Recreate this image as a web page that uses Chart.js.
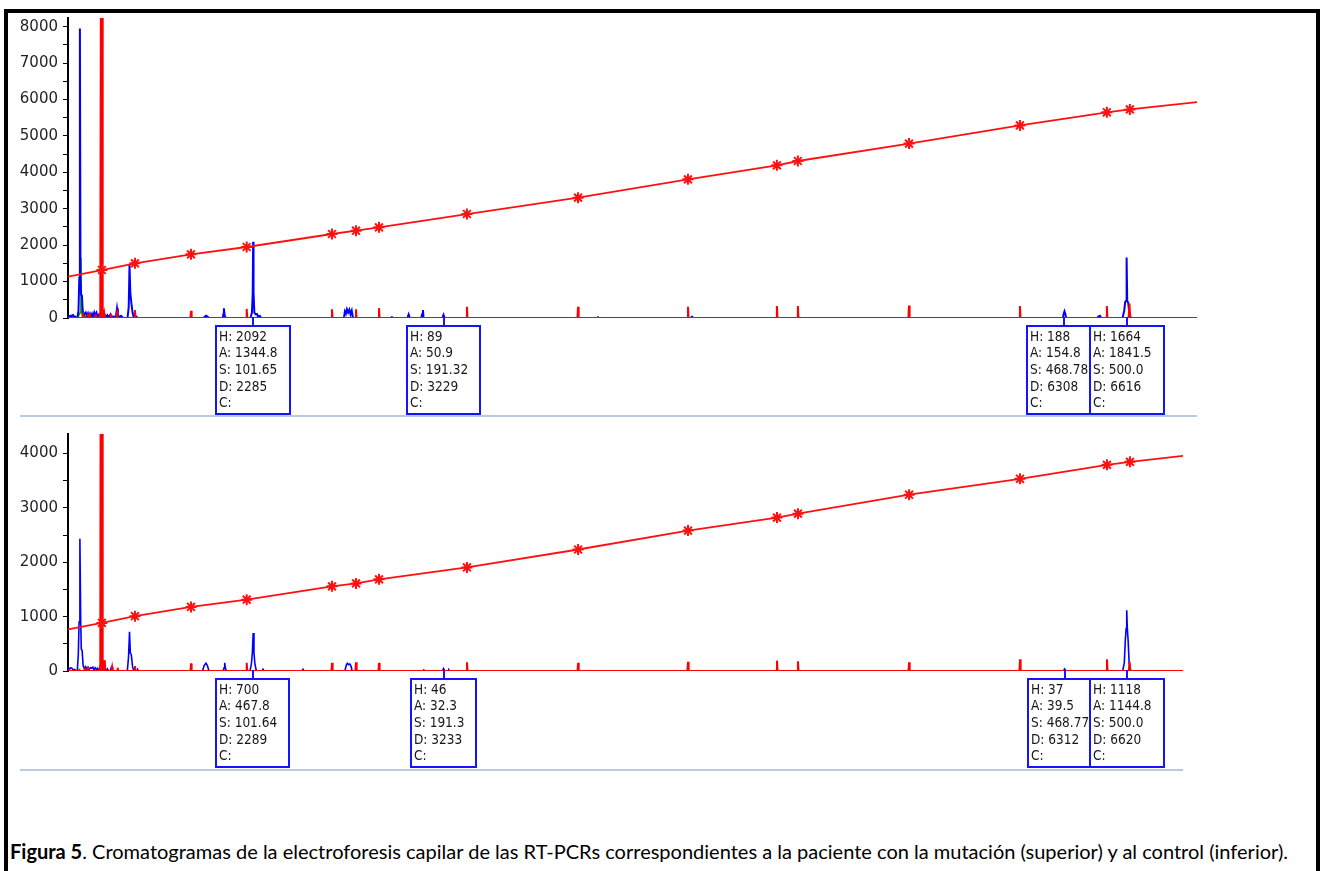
<!DOCTYPE html>
<html>
<head>
<meta charset="utf-8">
<script src="https://cdn.jsdelivr.net/npm/chart.js@4"></script>
<style>
  html, body { margin: 0; padding: 0; background: #fff; }
  #page { position: relative; width: 1321px; height: 871px; overflow: hidden; background: #fff; }
  #frame { position: absolute; left: 4px; top: 9px; width: 1316px; height: 900px;
           border: 4px solid #000; border-bottom: none; box-sizing: border-box; }
  canvas { position: absolute; left: 0; }
  #cTop { top: 0; }
  #cBot { top: 420px; }
  #caption { position: absolute; left: 10px; top: 841px; font-family: Lato, "Open Sans", sans-serif;
             font-size: 18px; line-height: 20px; white-space: nowrap; color: #000; }
</style>
</head>
<body>
<div id="page">
  <div id="frame"></div>
  <canvas id="cTop" width="1321" height="425"></canvas>
  <canvas id="cBot" width="1321" height="360"></canvas>
  <div id="caption"><span id="capText"><b>Figura 5</b>. Cromatogramas de la electroforesis capilar de las RT-PCRs correspondientes a la paciente con la mutación (superior) y al control (inferior).</span></div>
</div>
<script>
// ---------- Scan ranges shown on each electropherogram ----------
const scanRangeTop = [1367, 6965];
const scanRangeBot = [1371, 6899];
const rfuMaxTop = 8240;
const rfuMaxBot = 4360;

// ---------- Y-axis ticks (labels only on the thousands) ----------
const yTicksTop = [0, 500, 1000, 1500, 2000, 2500, 3000, 3500, 4000, 4500, 5000, 5500, 6000, 6500, 7000, 7500, 8000];
const yTicksBot = [0, 500, 1000, 1500, 2000, 2500, 3000, 3500, 4000];

// ---------- Called peaks (H: height, A: area, S: size, D: data point) ----------
const peakHTop = [2092, 89, 188, 1664];
const peakATop = ['1344.8', '50.9', '154.8', '1841.5'];
const peakSTop = ['101.65', '191.32', '468.78', '500.0'];
const peakDTop = [2285, 3229, 6308, 6616];

const peakHBot = [700, 46, 37, 1118];
const peakABot = ['467.8', '32.3', '39.5', '1144.8'];
const peakSBot = ['101.64', '191.3', '468.77', '500.0'];
const peakDBot = [2289, 3233, 6312, 6620];

// ---------- Sizing curve (size standard fit) ----------
const sizeScanTop = [1367, 1535, 1699, 1977, 2253, 2676, 2795, 2909, 3345, 3896, 4441, 4882, 4986, 5537, 6087, 6518, 6632, 6965];
const sizeValTop  = [1135, 1318, 1502, 1749, 1950, 2307, 2398, 2490, 2856, 3305, 3809, 4193, 4312, 4790, 5290, 5650, 5730, 5930];
const sizeScanBot = [1371, 1539, 1703, 1981, 2257, 2680, 2799, 2913, 3349, 3900, 4445, 4886, 4990, 5541, 6091, 6522, 6636, 6899];
const sizeValBot  = [764, 885, 1008, 1178, 1313, 1557, 1612, 1686, 1905, 2235, 2583, 2822, 2895, 3243, 3536, 3793, 3848, 3958];

// ---------- Traces, [scan, RFU] ----------
const redTop = [
  [1367,0],
  [1438,0],[1441,150],[1444,0],
  [1463,0],[1466,120],[1469,0],
  [1473,0],[1476,130],[1479,0],
  [1502,0],[1505,100],[1508,0],
  [1522,0],[1525,150],[1527,0],
  [1530,0],[1532,15000],[1537,15000],[1539,0],
  [1544,0],[1547,120],[1550,0],
  [1577,0],[1580,100],[1583,0],
  [1607,0],[1610,120],[1613,0],
  [1696,0],[1699,220],[1702,0],
  [1974,0],[1977,200],[1980,0],
  [2250,0],[2253,250],[2256,0],
  [2673,0],[2676,240],[2679,0],
  [2792,0],[2795,240],[2798,0],
  [2906,0],[2909,270],[2912,0],
  [3342,0],[3345,310],[3348,0],
  [3893,0],[3896,310],[3899,0],
  [4438,0],[4441,310],[4444,0],
  [4879,0],[4882,330],[4885,0],
  [4983,0],[4986,330],[4989,0],
  [5534,0],[5537,340],[5540,0],
  [6084,0],[6087,330],[6090,0],
  [6515,0],[6518,330],[6521,0],
  [6626,0],[6630,400],[6634,0],
  [6965,0]
];
const blueTop = [
  [1367,0],[1372,40],[1377,60],[1382,20],[1387,70],[1392,80],[1397,30],[1402,40],[1407,10],
  [1413,0],[1419,200],[1423,1100],[1426,7950],[1429,1100],[1432,640],[1436,600],[1440,200],[1445,60],
  [1450,120],[1455,150],[1460,60],[1466,130],[1470,50],[1476,120],[1481,40],[1486,110],[1491,30],
  [1497,150],[1502,60],[1508,140],[1513,40],[1520,90],[1526,20],[1531,30],[1540,10],[1548,60],
  [1554,20],[1562,80],[1568,10],[1578,100],[1584,30],[1592,40],[1600,10],[1606,100],[1610,265],
  [1614,100],[1620,20],[1630,60],[1640,10],[1650,0],
  [1662,0],[1668,300],[1672,1456],[1676,700],[1681,420],[1687,150],[1694,0],
  [1705,40],[1712,0],
  [2040,0],[2046,40],[2052,65],[2058,40],[2066,0],
  [2134,0],[2138,120],[2140,265],[2144,60],[2150,0],
  [2272,0],[2279,150],[2283,700],[peakDTop[0],peakHTop[0]],[2287,700],[2291,150],[2298,100],[2304,110],[2310,30],[2318,60],[2325,0],
  [2735,0],[2740,180],[2745,120],[2750,240],[2756,150],[2762,230],[2768,100],[2774,200],[2780,0],
  [2968,0],[2973,25],[2978,0],
  [3050,0],[3056,100],[3062,0],
  [3118,0],[3124,120],[3127,220],[3130,0],
  [3223,0],[peakDTop[1],peakHTop[1]],[3235,0],
  [3990,0],[3995,20],[4000,0],
  [4455,0],[4461,35],[4467,0],
  [6300,0],[6304,120],[peakDTop[2],peakHTop[2]],[6312,120],[6316,0],
  [6470,0],[6476,40],[6484,60],[6490,0],
  [6596,0],[6604,200],[6609,440],[6613,470],[peakDTop[3],peakHTop[3]],[6619,470],[6624,420],[6629,150],[6637,0],
  [6965,0]
];
const greenTop = [[1415,0],[1427,150],[1431,1656],[1434,150],[1441,0],[1456,40],[1462,0]];
const blackTop = [[1525,0],[1531,70],[1537,0],[1580,0],[1585,40],[1590,0]];

const redBot = [
  [1371,0],
  [1451,0],[1454,60],[1457,0],
  [1467,0],[1470,80],[1473,0],
  [1526,0],[1529,100],[1531,0],
  [1534,0],[1536,15000],[1541,15000],[1543,0],
  [1550,0],[1553,200],[1556,0],
  [1587,0],[1590,70],[1593,0],
  [1614,0],[1617,60],[1620,0],
  [1700,0],[1703,90],[1706,0],
  [1978,0],[1981,140],[1984,0],
  [2254,0],[2257,150],[2260,0],
  [2677,0],[2680,150],[2683,0],
  [2796,0],[2799,160],[2802,0],
  [2910,0],[2913,150],[2916,0],
  [3346,0],[3349,160],[3352,0],
  [3897,0],[3900,150],[3903,0],
  [4442,0],[4445,170],[4448,0],
  [4883,0],[4886,190],[4889,0],
  [4987,0],[4990,180],[4993,0],
  [5538,0],[5541,160],[5544,0],
  [6088,0],[6091,214],[6094,0],
  [6519,0],[6522,214],[6525,0],
  [6630,0],[6634,170],[6638,0],
  [6899,0]
];
const blueBot = [
  [1371,0],[1376,50],[1381,40],[1386,60],[1391,50],[1396,20],[1404,30],[1410,0],
  [1417,0],[1422,300],[1426,900],[1430,2431],[1434,900],[1437,400],[1441,380],[1446,100],[1452,40],
  [1458,80],[1463,40],[1470,70],[1476,30],[1482,60],[1488,50],[1494,70],[1500,20],[1506,60],
  [1512,30],[1518,50],[1524,10],[1530,0],
  [1560,0],[1566,40],[1572,0],
  [1580,0],[1585,60],[1590,0],
  [1665,0],[1671,250],[1676,720],[1680,330],[1685,300],[1691,80],[1698,0],
  [1712,0],[1716,30],[1720,0],
  [2038,0],[2046,100],[2055,145],[2062,100],[2070,0],
  [2140,0],[2145,60],[2148,150],[2152,40],[2158,0],
  [2273,0],[2280,120],[2285,330],[peakDBot[0],peakHBot[0]],[2293,330],[2298,120],[2305,0],
  [2333,0],[2338,30],[2343,0],
  [2531,0],[2536,30],[2541,0],
  [2744,0],[2750,100],[2756,140],[2762,120],[2768,130],[2774,90],[2780,0],
  [3130,0],[3135,20],[3140,0],
  [3227,0],[peakDBot[1],peakHBot[1]],[3239,0],
  [3255,0],[3259,20],[3263,0],
  [6306,0],[peakDBot[2],peakHBot[2]],[6318,0],
  [6600,0],[6608,150],[6613,560],[6617,780],[peakDBot[3],peakHBot[3]],[6623,780],[6627,560],[6632,150],[6640,0],
  [6899,0]
];
const greenBot = [[1420,0],[1428,30],[1434,0]];
const blackBot = [[1530,0],[1535,40],[1540,0]];

// ---------- helpers ----------
const toXY = arr => arr.map(p => ({ x: p[0], y: p[1] }));
const zipXY = (xs, ys) => xs.map((x, i) => ({ x, y: ys[i] }));
const buildPeaks = (H, A, S, D) => D.map((d, i) => ({
  d, lines: ['H: ' + H[i], 'A: ' + A[i], 'S: ' + S[i], 'D: ' + d, 'C:']
}));

// Peak annotation boxes hanging under the baseline, plus the panel separator
const peakBoxes = {
  id: 'peakBoxes',
  afterDatasetsDraw(chart, args, opts) {
    const { ctx, chartArea, scales } = chart;
    const base = Math.round(scales.y.getPixelForValue(0));
    ctx.save();
    ctx.strokeStyle = '#b7cae4';
    ctx.lineWidth = 2;
    ctx.beginPath();
    ctx.moveTo(chartArea.left - 48, base + opts.sepOffset);
    ctx.lineTo(chartArea.right, base + opts.sepOffset);
    ctx.stroke();

    ctx.font = '13.5px "DejaVu Sans Condensed", "DejaVu Sans"';
    ctx.textBaseline = 'alphabetic';
    opts.peaks.forEach(p => {
      const w = Math.round(Math.max(...p.lines.map(t => ctx.measureText(t).width)) + 15);
      const cx = Math.round(scales.x.getPixelForValue(p.d));
      const left = cx - Math.round(w / 2);
      const top = base + 8;
      const h = 88;
      ctx.strokeStyle = '#1414ff';
      ctx.lineWidth = 2;
      ctx.beginPath();
      ctx.moveTo(cx, base - 1);
      ctx.lineTo(cx, top);
      ctx.stroke();
      ctx.fillStyle = '#fff';
      ctx.fillRect(left, top, w, h);
      ctx.strokeRect(left, top, w, h);
      ctx.fillStyle = '#16161e';
      p.lines.forEach((t, i) => ctx.fillText(t, left + 3, top + 14.5 + i * 16.7));
    });
    ctx.restore();
  }
};

function makeChart(canvas, cfg) {
  const n = cfg.size.length;
  return new Chart(canvas, {
    type: 'line',
    data: {
      datasets: [
        { label: 'Curva de calibración', data: cfg.size, borderColor: '#ff1010', borderWidth: 1.8,
          pointStyle: 'star', pointRadius: c => (c.dataIndex === 0 || c.dataIndex === n - 1) ? 0 : 5.5,
          pointBorderColor: '#ff1010', pointBorderWidth: 2, pointBackgroundColor: '#ff1010', tension: 0 },
        { label: 'Rojo', data: cfg.red, borderColor: '#ff0000', backgroundColor: '#ff0000',
          fill: 'origin', borderWidth: 2, pointRadius: 0 },
        { label: 'Azul', data: cfg.blue, borderColor: '#0000ff', borderWidth: cfg.blueWidth, pointRadius: 0 },
        { label: 'Verde', data: cfg.green, borderColor: '#00a000', borderWidth: 1.5, pointRadius: 0 },
        { label: 'Negro', data: cfg.black, borderColor: '#000000', borderWidth: 1.5, pointRadius: 0 }
      ]
    },
    options: {
      responsive: false,
      animation: false,
      devicePixelRatio: 1,
      events: [],
      layout: { padding: cfg.padding },
      plugins: {
        legend: { display: false },
        tooltip: { enabled: false },
        peakBoxes: { peaks: cfg.peaks, sepOffset: cfg.sepOffset }
      },
      scales: {
        x: { type: 'linear', min: cfg.range[0], max: cfg.range[1], display: false },
        y: {
          min: 0, max: cfg.yMax,
          afterFit: s => { s.width = 68; },
          afterBuildTicks: s => { s.ticks = cfg.yTicks.map(v => ({ value: v })); },
          ticks: {
            autoSkip: false, padding: 5,
            color: '#1f1f2a', font: { family: 'DejaVu Sans', size: 15 },
            callback: v => (v % 1000 === 0 ? String(v) : '')
          },
          grid: { drawOnChartArea: false, drawTicks: true, tickLength: 5, tickColor: '#000', tickWidth: 1 },
          border: { display: true, color: '#000', width: 2 }
        }
      }
    },
    plugins: [peakBoxes]
  });
}

makeChart(document.getElementById('cTop'), {
  range: scanRangeTop, yMax: rfuMaxTop, yTicks: yTicksTop,
  size: zipXY(sizeScanTop, sizeValTop),
  red: toXY(redTop), blue: toXY(blueTop), green: toXY(greenTop), black: toXY(blackTop),
  blueWidth: 2,
  peaks: buildPeaks(peakHTop, peakATop, peakSTop, peakDTop),
  padding: { top: 18, right: 124, bottom: 107, left: 0 },
  sepOffset: 98
});

makeChart(document.getElementById('cBot'), {
  range: scanRangeBot, yMax: rfuMaxBot, yTicks: yTicksBot,
  size: zipXY(sizeScanBot, sizeValBot),
  red: toXY(redBot), blue: toXY(blueBot), green: toXY(greenBot), black: toXY(blackBot),
  blueWidth: 1.6,
  peaks: buildPeaks(peakHBot, peakABot, peakSBot, peakDBot),
  padding: { top: 13, right: 138, bottom: 109, left: 0 },
  sepOffset: 99
});

// Fit the caption to its line width
(function () {
  const span = document.getElementById('capText');
  const cap = document.getElementById('caption');
  const target = 1278;
  const w = span.getBoundingClientRect().width;
  if (w > 0) cap.style.fontSize = (18 * target / w).toFixed(2) + 'px';
})();
</script>
</body>
</html>
